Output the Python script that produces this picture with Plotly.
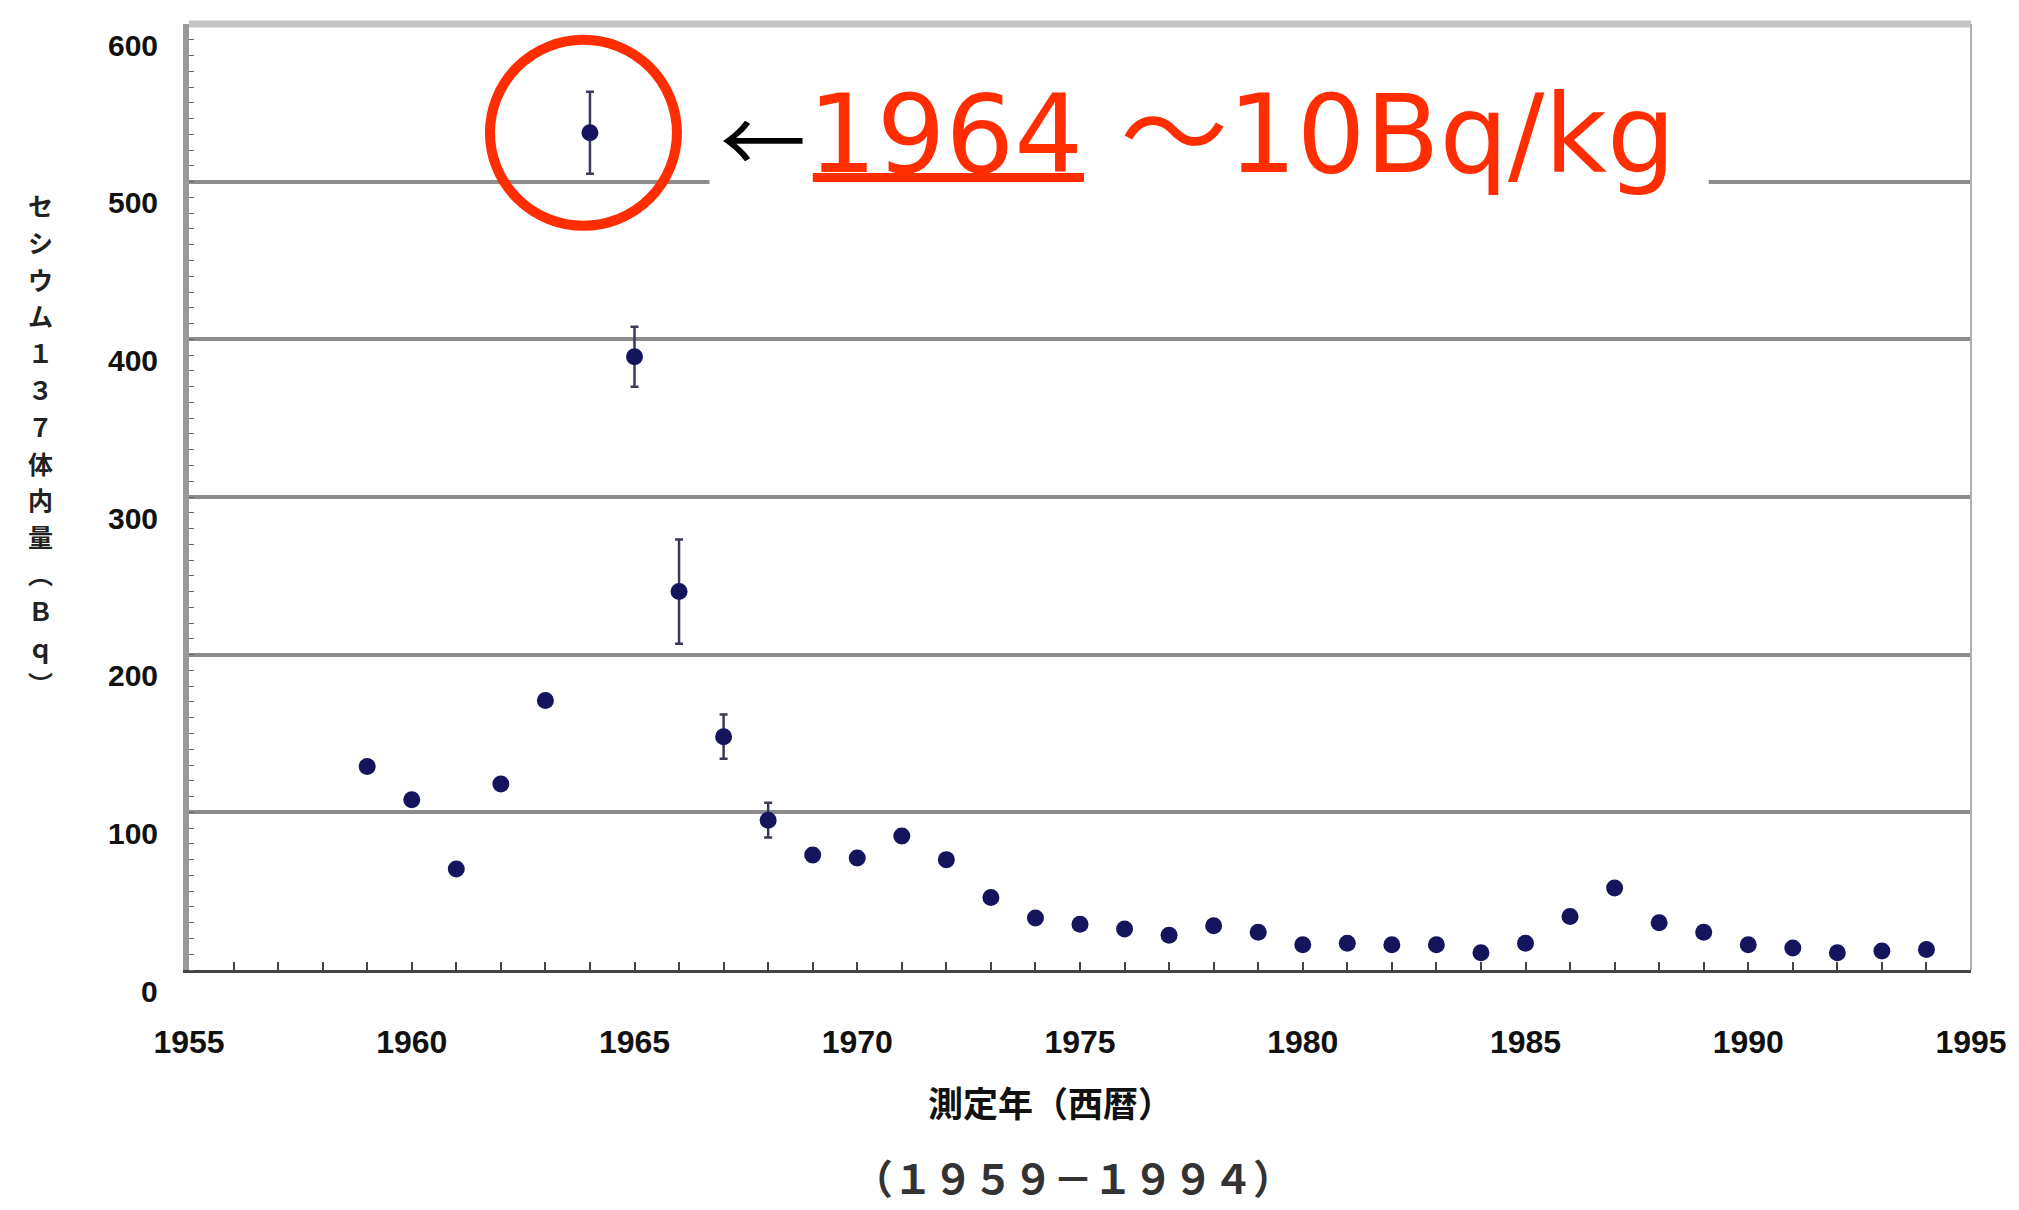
import plotly.graph_objects as go

# ---------------- data ----------------
years = list(range(1959, 1995))
cesium_bq = [129, 108, 64, 118, 171, 531, 389, 240, 148, 95,
             73, 71, 85, 70, 46, 33, 29, 26, 22, 28,
             24, 16, 17, 16, 16, 11, 17, 34, 52, 30,
             24, 16, 14, 11, 12, 13]
error_bq = [3, 3, 3, 3, 3, 26, 19, 33, 14, 11,
            4, 4, 4, 4, 3, 3, 3, 3, 3, 3,
            3, 3, 3, 3, 3, 3, 3, 3, 3, 3,
            3, 3, 3, 3, 3, 3]

x_ticks = [1955, 1960, 1965, 1970, 1975, 1980, 1985, 1990, 1995]
y_ticks = [0, 100, 200, 300, 400, 500, 600]

y_title_chars = ["セ", "シ", "ウ", "ム", "１", "３", "７", "体", "内", "量", "︵", "Ｂ", "ｑ", "︶"]
x_title = "測定年（西暦）"
caption = "（１９５９－１９９４）"
highlight_year = 1964
highlight_value = 531
note_year = "1964"
note_rest = "～10Bq/kg"

RED = "#ff2d00"
L, R, T, B = 189, 36, 24, 240
W, H = 2019, 1210
PW, PH = W - L - R, H - T - B


def px(xp):
    return (xp - L) / PW


def py(yp):
    return (H - B - yp) / PH


fig = go.Figure()
fig.add_trace(go.Scatter(
    x=years, y=cesium_bq, mode="markers",
    marker=dict(symbol="circle", size=17, color="#15155e"),
    error_y=dict(type="data", array=error_bq, visible=True,
                 color="#3a3a5a", thickness=2.5, width=4),
    showlegend=False,
))

fig.update_layout(
    width=W, height=H,
    margin=dict(l=L, r=R, t=T, b=B),
    paper_bgcolor="white", plot_bgcolor="white",
    showlegend=False,
    xaxis=dict(
        range=[1955, 1995], tickvals=x_ticks,
        ticktext=[str(v) for v in x_ticks],
        showgrid=False, zeroline=False,
        showline=True, linecolor="#444444", linewidth=3,
        ticks="inside", ticklen=8, tickcolor="#444444", tickwidth=2,
        minor=dict(dtick=1, ticks="inside", ticklen=8, tickcolor="#444444", tickwidth=2),
        tickfont=dict(family="Liberation Sans", size=32, color="#111111", weight="bold"),
        ticklabelstandoff=42,
    ),
    yaxis=dict(
        range=[0, 600], tickvals=y_ticks,
        showticklabels=False,
        showgrid=True, gridcolor="#8c8c8c", gridwidth=4,
        zeroline=False,
        showline=True, linecolor="#9a9a9a", linewidth=6,
        ticks="",
        minor=dict(dtick=10, ticks="inside", ticklen=5, tickcolor="#666666", tickwidth=1),
    ),
)

shapes = []
# top border and right border
shapes.append(dict(type="line", xref="paper", yref="paper", x0=0, x1=1, y0=1, y1=1,
                   line=dict(color="#c4c4c4", width=7), layer="above"))
shapes.append(dict(type="line", xref="paper", yref="paper", x0=1, x1=1, y0=0, y1=1,
                   line=dict(color="#b0b0b0", width=2), layer="above"))
# white box behind the note
shapes.append(dict(type="rect", xref="paper", yref="paper",
                   x0=px(713), x1=px(1719), y0=py(193), y1=py(60),
                   fillcolor="white", line=dict(width=0), layer="above"))
# red circle around 1964
shapes.append(dict(type="circle", xref="x", yref="y",
                   xsizemode="pixel", ysizemode="pixel",
                   xanchor=highlight_year, yanchor=highlight_value,
                   x0=-100, x1=87, y0=-93, y1=93,
                   line=dict(color=RED, width=10), layer="above"))
# underline for 1964
shapes.append(dict(type="rect", xref="paper", yref="paper",
                   x0=px(817), x1=px(1090), y0=py(182), y1=py(173),
                   fillcolor=RED, line=dict(width=0), layer="above"))
fig.update_layout(shapes=shapes)

ann = []
# y tick labels (drawn slightly below their gridlines, as in the source)
for v in y_ticks:
    ann.append(dict(text=str(v), xref="paper", yref="y", x=px(160), y=v, yshift=-21,
                    xanchor="right", yanchor="middle", showarrow=False,
                    font=dict(family="Liberation Sans", size=30, color="#111111", weight="bold")))
ann.append(dict(text="←", xref="paper", yref="paper", x=px(722), y=py(136),
                xanchor="left", yanchor="middle", showarrow=False,
                font=dict(family="Noto Sans CJK JP", size=86, color="#000000")))
ann.append(dict(text=note_year, xref="paper", yref="paper", x=px(810), y=py(134),
                xanchor="left", yanchor="middle", showarrow=False,
                font=dict(family="DejaVu Sans", size=108, color=RED)))
ann.append(dict(text=note_rest, xref="paper", yref="paper", x=px(1124), y=py(134),
                xanchor="left", yanchor="middle", showarrow=False,
                font=dict(family="DejaVu Sans, Noto Sans CJK JP", size=108, color=RED)))
# vertical y-axis title, one upright character per position
pitch = 36.8
top_center = 205
for i, ch in enumerate(y_title_chars):
    ann.append(dict(text=ch, xref="paper", yref="paper",
                    x=px(39), y=py(top_center + i * pitch),
                    xanchor="center", yanchor="middle", showarrow=False,
                    font=dict(family="Noto Sans CJK JP", size=25, color="#222222", weight="bold")))
ann.append(dict(text=x_title, xref="paper", yref="paper", x=px(1056), y=py(1101),
                xanchor="center", yanchor="middle", showarrow=False,
                font=dict(family="Noto Sans CJK JP", size=35, color="#111111", weight="bold")))
ann.append(dict(text=caption, xref="paper", yref="paper", x=px(1079), y=py(1177),
                xanchor="center", yanchor="middle", showarrow=False,
                font=dict(family="Noto Sans CJK JP", size=40, color="#333333", weight="bold")))
fig.update_layout(annotations=ann)

fig.write_html("out.html")
